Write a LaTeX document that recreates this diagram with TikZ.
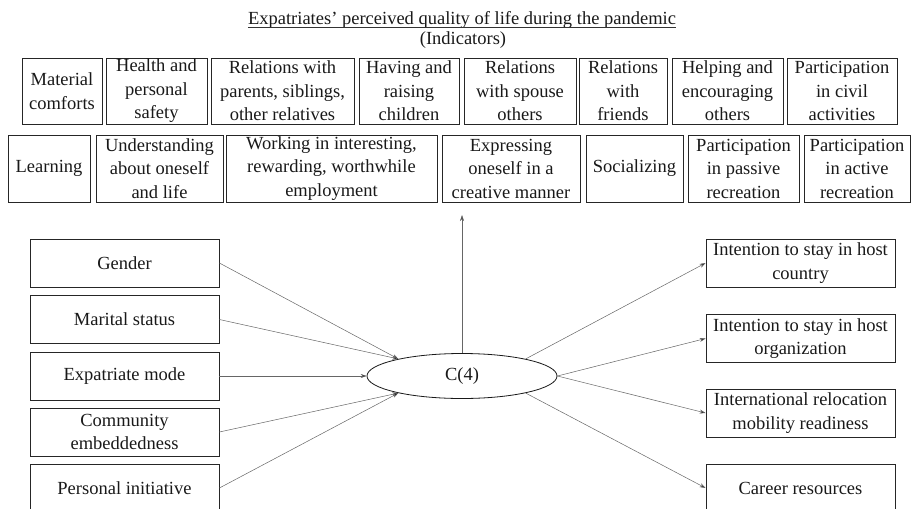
\documentclass[tikz,border=0pt]{standalone}
\usepackage{fontspec}
\setmainfont{Liberation Serif}
\usetikzlibrary{arrows.meta,shapes.geometric}
\begin{document}
\begin{tikzpicture}[x=1pt,y=-1pt,
  every node/.style={font=\fontsize{18.5}{23.5}\selectfont, text=black!90},
  box/.style={draw=black!85, line width=0.8pt, align=center, inner sep=0pt},
  ind1/.style={box, minimum height=66pt},
  ind2/.style={box, minimum height=67pt},
  side/.style={box, minimum width=189pt, minimum height=48pt},
  conn/.style={draw=black!60, line width=0.5pt, -{Stealth[length=6pt,width=4pt,fill=black]}}]
\useasboundingbox (0,0) rectangle (911,509);
% title
\node[anchor=base, inner sep=0pt] (title) at (462,24.5) {Expatriates’ perceived quality of life during the pandemic};
\draw[black!80, line width=0.6pt] ([yshift=-2.5pt]title.base west) -- ([yshift=-2.5pt]title.base east);
\node[anchor=base, inner sep=0pt] (indic) at (463,44) {(Indicators)};
% row 1
\node[ind1, minimum width=80pt]  (mat) at (62,91)    {Material\\comforts};
\node[ind1, minimum width=101pt] (hea) at (156.5,91) {Health and\\personal\\safety};
\node[ind1, minimum width=143pt] (rel) at (282.5,91) {Relations with\\parents, siblings,\\other relatives};
\node[ind1, minimum width=100pt] (hav) at (409,91)   {Having and\\raising\\children};
\node[ind1, minimum width=112pt] (spo) at (520,91)   {Relations\\with spouse\\others};
\node[ind1, minimum width=88pt]  (fri) at (623,91)   {Relations\\with\\friends};
\node[ind1, minimum width=111pt] (hel) at (727.5,91) {Helping and\\encouraging\\others};
\node[ind1, minimum width=110pt] (civ) at (842,91)   {Participation\\in civil\\activities};
% row 2
\node[ind2, minimum width=82pt]  (lea) at (49,168.5)    {Learning};
\node[ind2, minimum width=127pt] (und) at (159.5,168.5) {Understanding\\about oneself\\and life};
\node[ind2, minimum width=211pt] (wor) at (331.5,168.5) {Working in interesting,\\rewarding, worthwhile\\employment};
\node[ind2, minimum width=138pt] (exq) at (511,168.5)   {Expressing\\oneself in a\\creative manner};
\node[ind2, minimum width=97pt]  (soc) at (634.5,168.5) {Socializing};
\node[ind2, minimum width=111pt] (pas) at (743.5,168.5) {Participation\\in passive\\recreation};
\node[ind2, minimum width=106pt] (act) at (857,168.5)   {Participation\\in active\\recreation};
% centre
\node[draw=black!90, line width=0.8pt, ellipse, inner sep=0pt, minimum width=190pt, minimum height=45pt] (c) at (462,376) {C(4)};
\coordinate (up) at (462,215);
% left
\node[side] (gen) at (124.5,263)   {Gender};
\node[side] (mar) at (124.5,319.5) {Marital status};
\node[side] (exm) at (124.5,376)   {Expatriate mode};
\node[side] (com) at (124.5,432)   {Community\\embeddedness};
\node[side] (per) at (124.5,488)   {Personal initiative};
% right
\node[side] (cou) at (800.5,263)   {Intention to stay in host\\country};
\node[side] (org) at (800.5,338.5) {Intention to stay in host\\organization};
\node[side] (int) at (800.5,413)   {International relocation\\mobility readiness};
\node[side] (car) at (800.5,488)   {Career resources};
% connectors
\draw[conn] (c.north) -- (up);
\draw[conn] (gen.east) -- (c.165);
\draw[conn] (mar.east) -- (c.165);
\draw[conn] (exm.east) -- (c.west);
\draw[conn] (com.east) -- (c.195);
\draw[conn] (per.east) -- (c.195);
\draw[conn] (c.15) -- (cou.west);
\draw[conn] (c.east) -- (org.west);
\draw[conn] (c.east) -- (int.west);
\draw[conn] (c.-15) -- (car.west);
\end{tikzpicture}
\end{document}
